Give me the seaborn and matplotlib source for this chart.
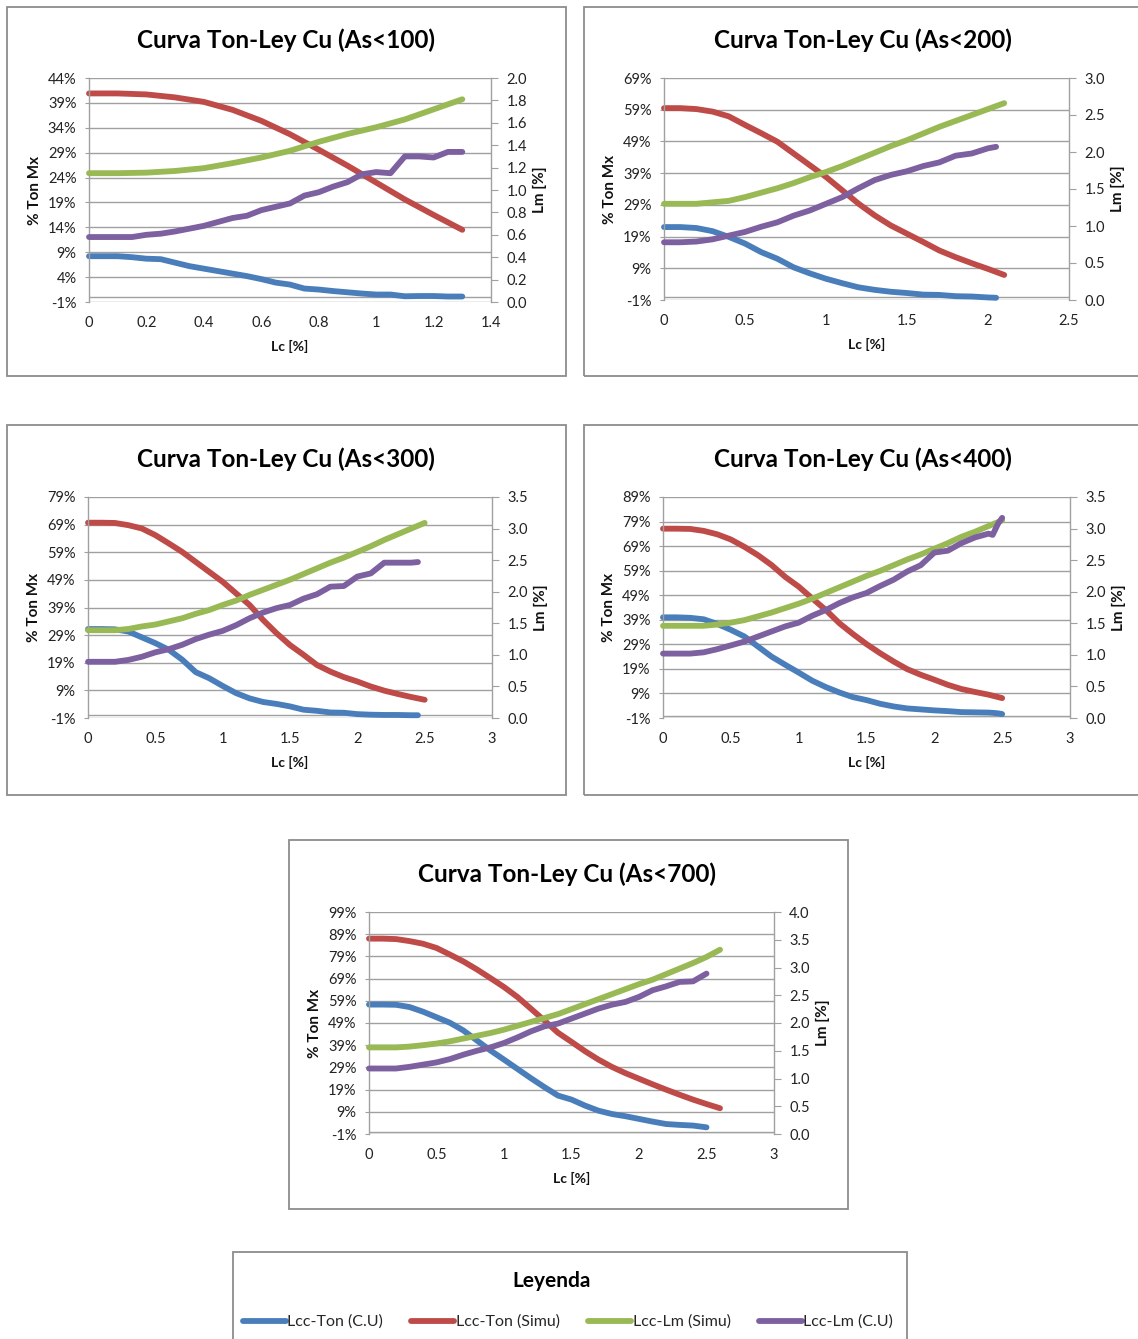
import numpy as np
import matplotlib
matplotlib.use("Agg")
import matplotlib.pyplot as plt
import seaborn as sns
from matplotlib.patches import Rectangle
from matplotlib.ticker import FuncFormatter

# ---------------- DATA ----------------
SERIES_NAMES = ["Lcc-Ton (C.U)", "Lcc-Ton (Simu)", "Lcc-Lm (Simu)", "Lcc-Lm (C.U)"]
TITLES = ["Curva Ton-Ley Cu (As<100)", "Curva Ton-Ley Cu (As<200)",
          "Curva Ton-Ley Cu (As<300)", "Curva Ton-Ley Cu (As<400)",
          "Curva Ton-Ley Cu (As<700)"]

# As<100
P100_X_SIMU = [0, 0.1, 0.2, 0.3, 0.4, 0.5, 0.6, 0.7, 0.8, 0.9, 1.0, 1.1, 1.2, 1.3]
P100_TON_SIMU = [40.9, 40.9, 40.7, 40.1, 39.2, 37.6, 35.4, 32.7, 29.6, 26.4, 23.0, 19.6, 16.5, 13.5]
P100_LM_SIMU = [1.15, 1.15, 1.155, 1.17, 1.195, 1.24, 1.29, 1.35, 1.43, 1.50, 1.56, 1.63, 1.72, 1.81]
P100_X_CU = [0, 0.05, 0.1, 0.15, 0.2, 0.25, 0.3, 0.35, 0.4, 0.45, 0.5, 0.55, 0.6, 0.65,
             0.7, 0.75, 0.8, 0.85, 0.9, 0.95, 1.0, 1.05, 1.1, 1.15, 1.2, 1.25, 1.3]
P100_TON_CU = [8.2, 8.2, 8.2, 8.0, 7.7, 7.6, 6.9, 6.2, 5.7, 5.2, 4.7, 4.2, 3.6, 2.9,
               2.5, 1.7, 1.5, 1.2, 0.95, 0.7, 0.5, 0.5, 0.15, 0.2, 0.2, 0.1, 0.1]
P100_LM_CU = [0.58, 0.58, 0.58, 0.58, 0.60, 0.61, 0.63, 0.655, 0.68, 0.715, 0.75, 0.77, 0.82, 0.85,
              0.88, 0.95, 0.98, 1.03, 1.07, 1.14, 1.16, 1.15, 1.30, 1.30, 1.29, 1.34, 1.34]

# As<200
P200_X_SIMU = [0, 0.1, 0.2, 0.3, 0.4, 0.5, 0.6, 0.7, 0.8, 0.9, 1.0, 1.1, 1.2, 1.3, 1.4,
               1.5, 1.6, 1.7, 1.8, 1.9, 2.0, 2.1]
P200_TON_SIMU = [59.5, 59.5, 59.2, 58.4, 56.9, 54.2, 51.6, 48.9, 45.2, 41.5, 37.8, 33.6, 29.4,
                 25.7, 22.5, 19.9, 17.3, 14.6, 12.5, 10.6, 8.8, 6.9]
P200_LM_SIMU = [1.30, 1.30, 1.30, 1.32, 1.34, 1.39, 1.45, 1.51, 1.58, 1.66, 1.73, 1.81, 1.90,
                1.99, 2.08, 2.16, 2.25, 2.34, 2.42, 2.50, 2.58, 2.66]
P200_X_CU = [0, 0.1, 0.2, 0.3, 0.4, 0.5, 0.6, 0.7, 0.8, 0.9, 1.0, 1.1, 1.2, 1.3, 1.4,
             1.5, 1.6, 1.7, 1.8, 1.9, 2.0, 2.05]
P200_TON_CU = [22.0, 22.0, 21.7, 20.7, 18.9, 16.8, 14.1, 12.0, 9.3, 7.4, 5.7, 4.3, 3.0, 2.2,
               1.6, 1.2, 0.7, 0.6, 0.2, 0.1, -0.2, -0.3]
P200_LM_CU = [0.78, 0.78, 0.79, 0.82, 0.87, 0.92, 0.99, 1.05, 1.14, 1.21, 1.30, 1.39, 1.51,
              1.62, 1.69, 1.74, 1.81, 1.86, 1.95, 1.98, 2.05, 2.07]

# As<300
P300_X_SIMU = [0, 0.1, 0.2, 0.3, 0.4, 0.5, 0.6, 0.7, 0.8, 0.9, 1.0, 1.1, 1.2, 1.3, 1.4,
               1.5, 1.6, 1.7, 1.8, 1.9, 2.0, 2.1, 2.2, 2.3, 2.4, 2.5]
P300_TON_SIMU = [69.7, 69.7, 69.6, 68.8, 67.6, 65.2, 62.2, 59.1, 55.5, 51.9, 48.3, 44.1, 39.9,
                 34.5, 29.7, 25.4, 21.9, 18.2, 15.8, 13.8, 12.2, 10.4, 8.9, 7.7, 6.6, 5.6]
P300_LM_SIMU = [1.39, 1.39, 1.39, 1.41, 1.45, 1.48, 1.53, 1.58, 1.65, 1.71, 1.79, 1.86, 1.95,
                2.03, 2.11, 2.19, 2.28, 2.37, 2.46, 2.54, 2.63, 2.72, 2.82, 2.91, 3.00, 3.09]
P300_X_CU = [0, 0.1, 0.2, 0.3, 0.4, 0.5, 0.6, 0.7, 0.8, 0.9, 1.0, 1.1, 1.2, 1.3, 1.4,
             1.5, 1.6, 1.7, 1.8, 1.9, 2.0, 2.1, 2.2, 2.3, 2.4, 2.45]
P300_TON_CU = [31.2, 31.2, 31.1, 30.3, 28.2, 26.1, 23.7, 20.1, 15.6, 13.4, 10.6, 8.0, 6.1,
               4.8, 4.1, 3.2, 2.0, 1.6, 1.0, 0.9, 0.4, 0.2, 0.1, 0.1, 0.0, 0.0]
P300_LM_CU = [0.89, 0.89, 0.89, 0.92, 0.97, 1.04, 1.09, 1.16, 1.25, 1.32, 1.38, 1.47, 1.58,
              1.67, 1.74, 1.79, 1.89, 1.96, 2.08, 2.09, 2.24, 2.29, 2.46, 2.46, 2.46, 2.47]

# As<400
P400_X_SIMU = [0, 0.1, 0.2, 0.3, 0.4, 0.5, 0.6, 0.7, 0.8, 0.9, 1.0, 1.1, 1.2, 1.3, 1.4,
               1.5, 1.6, 1.7, 1.8, 1.9, 2.0, 2.1, 2.2, 2.3, 2.4, 2.5]
P400_TON_SIMU = [76.1, 76.1, 76.0, 75.2, 73.8, 71.7, 68.7, 65.3, 61.3, 56.5, 52.5, 47.7, 43.0,
                 37.6, 33.2, 29.1, 25.4, 22.0, 18.9, 16.6, 14.6, 12.5, 10.8, 9.6, 8.5, 7.1]
P400_LM_SIMU = [1.46, 1.46, 1.46, 1.46, 1.48, 1.51, 1.55, 1.61, 1.67, 1.74, 1.81, 1.89, 1.98,
                2.07, 2.16, 2.25, 2.33, 2.42, 2.51, 2.59, 2.68, 2.77, 2.87, 2.95, 3.04, 3.13]
P400_X_CU = [0, 0.1, 0.2, 0.3, 0.4, 0.5, 0.6, 0.7, 0.8, 0.9, 1.0, 1.1, 1.2, 1.3, 1.4,
             1.5, 1.6, 1.7, 1.8, 1.9, 2.0, 2.1, 2.2, 2.3, 2.4, 2.43, 2.47, 2.5]
P400_TON_CU = [40.0, 40.0, 39.8, 39.2, 37.3, 34.9, 32.2, 28.1, 24.0, 20.7, 17.5, 14.2, 11.6,
               9.4, 7.5, 6.3, 4.8, 3.7, 2.9, 2.5, 2.1, 1.8, 1.4, 1.3, 1.2, 1.1, 0.9, 0.6]
P400_LM_CU = [1.02, 1.02, 1.02, 1.04, 1.09, 1.15, 1.21, 1.29, 1.37, 1.45, 1.51, 1.62, 1.71,
              1.82, 1.91, 1.98, 2.09, 2.19, 2.32, 2.42, 2.62, 2.65, 2.77, 2.86, 2.92, 2.90, 3.08, 3.17]

# As<700
P700_X_SIMU = [0, 0.1, 0.2, 0.3, 0.4, 0.5, 0.6, 0.7, 0.8, 0.9, 1.0, 1.1, 1.2, 1.3, 1.4,
               1.5, 1.6, 1.7, 1.8, 1.9, 2.0, 2.1, 2.2, 2.3, 2.4, 2.5, 2.6]
P700_TON_SIMU = [87.0, 87.0, 86.8, 85.9, 84.7, 82.8, 79.8, 76.7, 73.1, 69.2, 65.2, 60.7, 55.4,
                 50.1, 44.6, 40.5, 36.3, 32.5, 29.2, 26.4, 23.9, 21.4, 19.0, 16.7, 14.5, 12.5, 10.6]
P700_LM_SIMU = [1.56, 1.56, 1.56, 1.575, 1.60, 1.63, 1.67, 1.72, 1.77, 1.82, 1.88, 1.95, 2.02,
                2.09, 2.16, 2.25, 2.34, 2.43, 2.52, 2.61, 2.70, 2.78, 2.88, 2.98, 3.08, 3.19, 3.32]
P700_X_CU = [0, 0.1, 0.2, 0.3, 0.4, 0.5, 0.6, 0.7, 0.8, 0.9, 1.0, 1.1, 1.2, 1.3, 1.4,
             1.5, 1.6, 1.7, 1.8, 1.9, 2.0, 2.1, 2.2, 2.3, 2.4, 2.5]
P700_TON_CU = [57.3, 57.3, 57.2, 56.2, 54.1, 51.6, 49.1, 45.6, 41.1, 36.6, 32.5, 28.3, 24.1,
               20.1, 16.3, 14.5, 11.8, 9.5, 8.0, 7.0, 5.8, 4.6, 3.5, 3.1, 2.8, 2.0]
P700_LM_CU = [1.18, 1.18, 1.18, 1.21, 1.25, 1.29, 1.35, 1.43, 1.50, 1.56, 1.64, 1.74, 1.85,
              1.94, 1.99, 2.08, 2.17, 2.26, 2.33, 2.38, 2.47, 2.59, 2.66, 2.74, 2.75, 2.89]

# ---------------- STYLE / LAYOUT ----------------
sns.set_style("white")
plt.rcParams['font.family'] = ['Lato', 'DejaVu Sans']

COLORS = ["#4a7ebb", "#be4b48", "#98b954", "#7d60a0"]
GRID = "#a0a0a0"
W, H = 1138, 1339
fig = plt.figure(figsize=(W / 100, H / 100), dpi=100)


def fx(px):
    return px / W


def fy(py):
    return 1 - py / H


def frame(x0, y0, x1, y1):
    fig.patches.append(Rectangle((fx(x0), fy(y1)), fx(x1) - fx(x0), fy(y0) - fy(y1),
                                 transform=fig.transFigure, fill=False,
                                 edgecolor="#8c8c8c", lw=1.3, zorder=0))


panels = [
    dict(title=TITLES[0], xs=P100_X_SIMU, ts=P100_TON_SIMU, ls=P100_LM_SIMU,
         xc=P100_X_CU, tc=P100_TON_CU, lc=P100_LM_CU,
         box=(7, 7, 566, 376), rect=(89, 78, 491, 302),
         xmax=1.4, xstep=0.2, ytop=44, ystep=5, rmax=2.0, rstep=0.2),
    dict(title=TITLES[1], xs=P200_X_SIMU, ts=P200_TON_SIMU, ls=P200_LM_SIMU,
         xc=P200_X_CU, tc=P200_TON_CU, lc=P200_LM_CU,
         box=(584, 7, 1145, 376), rect=(664, 78, 1069, 300),
         xmax=2.5, xstep=0.5, ytop=69, ystep=10, rmax=3.0, rstep=0.5),
    dict(title=TITLES[2], xs=P300_X_SIMU, ts=P300_TON_SIMU, ls=P300_LM_SIMU,
         xc=P300_X_CU, tc=P300_TON_CU, lc=P300_LM_CU,
         box=(7, 425, 566, 795), rect=(88, 497, 492, 718),
         xmax=3.0, xstep=0.5, ytop=79, ystep=10, rmax=3.5, rstep=0.5),
    dict(title=TITLES[3], xs=P400_X_SIMU, ts=P400_TON_SIMU, ls=P400_LM_SIMU,
         xc=P400_X_CU, tc=P400_TON_CU, lc=P400_LM_CU,
         box=(584, 425, 1145, 795), rect=(663, 497, 1070, 718),
         xmax=3.0, xstep=0.5, ytop=89, ystep=10, rmax=3.5, rstep=0.5),
    dict(title=TITLES[4], xs=P700_X_SIMU, ts=P700_TON_SIMU, ls=P700_LM_SIMU,
         xc=P700_X_CU, tc=P700_TON_CU, lc=P700_LM_CU,
         box=(289, 840, 848, 1209), rect=(369, 912, 774, 1134),
         xmax=3.0, xstep=0.5, ytop=99, ystep=10, rmax=4.0, rstep=0.5),
]

LW = 4.2
handles = None
for p in panels:
    frame(*p["box"])
    x0, y0, x1, y1 = p["rect"]
    ax = fig.add_axes([fx(x0), fy(y1), fx(x1) - fx(x0), fy(y0) - fy(y1)])
    ax2 = ax.twinx()

    sns.lineplot(x=p["xc"], y=p["tc"], ax=ax, color=COLORS[0], lw=LW, estimator=None,
                 sort=False, label=SERIES_NAMES[0], legend=False)
    sns.lineplot(x=p["xs"], y=p["ts"], ax=ax, color=COLORS[1], lw=LW, estimator=None,
                 sort=False, label=SERIES_NAMES[1], legend=False)
    sns.lineplot(x=p["xs"], y=p["ls"], ax=ax2, color=COLORS[2], lw=LW, estimator=None,
                 sort=False, label=SERIES_NAMES[2], legend=False)
    sns.lineplot(x=p["xc"], y=p["lc"], ax=ax2, color=COLORS[3], lw=LW, estimator=None,
                 sort=False, label=SERIES_NAMES[3], legend=False)
    for a in (ax, ax2):
        for ln in a.lines:
            ln.set_solid_capstyle("round")
            ln.set_solid_joinstyle("round")
            ln.set_clip_on(False)
    if handles is None:
        handles = [ax.lines[0], ax.lines[1], ax2.lines[0], ax2.lines[1]]

    ax.set_xlim(0, p["xmax"])
    ax.set_ylim(-1, p["ytop"])
    ax2.set_ylim(0, p["rmax"])
    yt = np.arange(-1, p["ytop"] + 0.01, p["ystep"])
    ax.set_yticks(yt)
    ax.yaxis.set_major_formatter(FuncFormatter(lambda v, _: f"{v:.0f}%"))
    xt = np.arange(0, p["xmax"] + 1e-6, p["xstep"])
    ax.set_xticks(xt)
    ax.xaxis.set_major_formatter(FuncFormatter(lambda v, _: f"{round(v, 2):g}"))
    rt = np.arange(0, p["rmax"] + 1e-6, p["rstep"])
    ax2.set_yticks(rt)
    ax2.yaxis.set_major_formatter(FuncFormatter(lambda v, _: f"{v:.1f}"))

    ax.grid(axis="y", color=GRID, lw=1.0)
    ax.grid(axis="x", visible=False)
    ax.axhline(0, color=GRID, lw=1.0, zorder=1)
    ax.set_facecolor("white")
    for a in (ax, ax2):
        for s in ("top", "bottom"):
            a.spines[s].set_visible(False)
        a.spines["left"].set_color(GRID)
        a.spines["right"].set_color(GRID)
        a.spines["left"].set_linewidth(1.0)
        a.spines["right"].set_linewidth(1.0)
    ax2.spines["left"].set_visible(False)
    ax.spines["right"].set_visible(False)
    ax.tick_params(axis="y", length=3, color=GRID, labelsize=10.5, pad=6, labelcolor="#222222")
    ax.tick_params(axis="x", length=0, labelsize=10.5, pad=10, labelcolor="#222222")
    ax2.tick_params(axis="y", length=5, color=GRID, labelsize=10.5, pad=6, labelcolor="#222222")
    ax.set_xlabel("")
    ax.set_ylabel("")
    ax2.set_ylabel("")

    cx = (x0 + x1) / 2
    cy = (y0 + y1) / 2
    fig.text(fx(cx - 4), fy(y0 - 38), p["title"], ha="center", va="center",
             fontsize=17.5, fontweight="bold", color="#000000")
    fig.text(fx(x0 - 54), fy(cy), "% Ton Mx", rotation=90, ha="center", va="center",
             fontsize=11, fontweight="bold", color="#111111")
    fig.text(fx(x1 + 49), fy(cy), "Lm [%]", rotation=90, ha="center", va="center",
             fontsize=11, fontweight="bold", color="#111111")
    fig.text(fx(cx), fy(y1 + 44), "Lc [%]", ha="center", va="center",
             fontsize=10, fontweight="bold", color="#111111")

# legend box
frame(233, 1252, 907, 1350)
fig.text(fx(552), fy(1281), "Leyenda", ha="center", va="center",
         fontsize=15, fontweight="bold", color="#000000")
fig.legend(handles, SERIES_NAMES, loc="center", bbox_to_anchor=(fx(568), fy(1322)),
           ncol=4, frameon=False, handlelength=2.7, handletextpad=0.1,
           columnspacing=1.75, fontsize=11.5)

fig.savefig("out.png", dpi=100, facecolor="white")
